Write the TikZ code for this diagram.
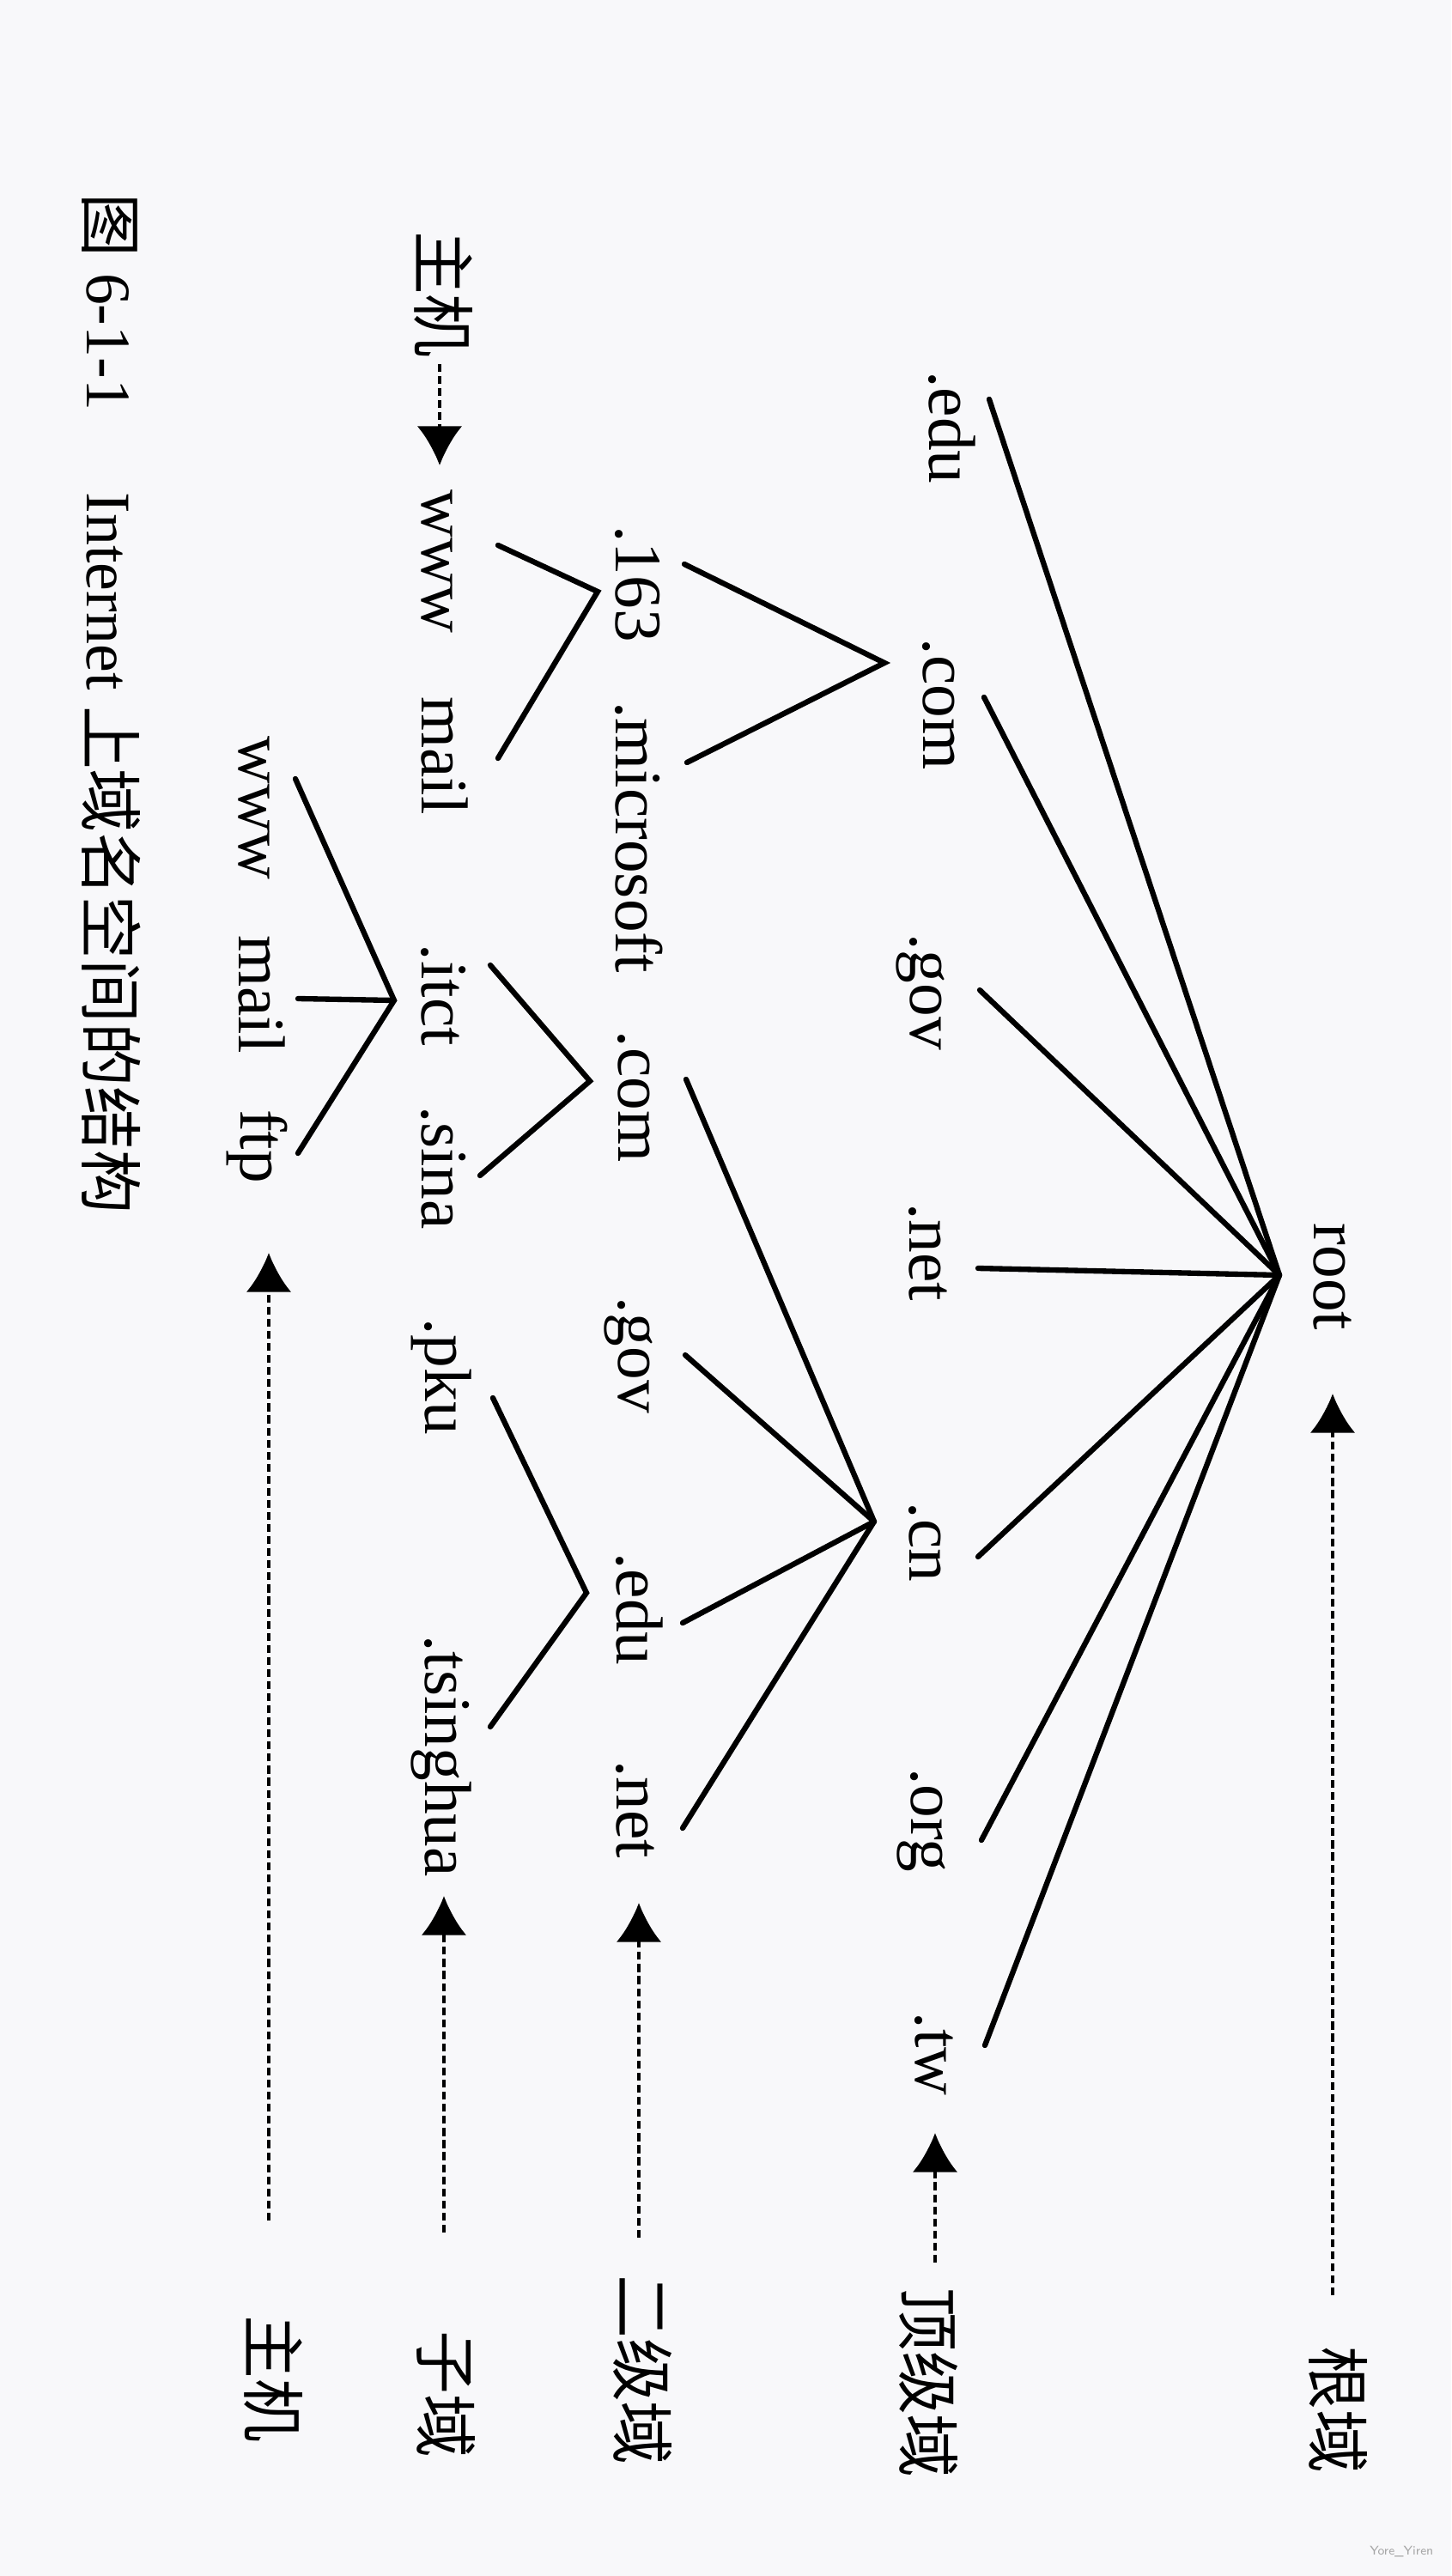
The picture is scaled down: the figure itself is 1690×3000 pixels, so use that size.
\documentclass[tikz,border=0pt]{standalone}
\usepackage{fontspec}
\setmainfont{Liberation Serif}
\newfontfamily\cjk{Noto Sans CJK SC}
\usetikzlibrary{arrows.meta}
\definecolor{pagebg}{RGB}{248,248,250}
\begin{document}
\begin{tikzpicture}[x=0.01cm,y=-0.01cm,
  lbl/.style={rotate=-90,anchor=base,inner sep=0pt,font=\fontsize{22}{26}\selectfont},
  cjklbl/.style={rotate=-90,anchor=center,inner sep=0pt,font=\cjk\fontsize{21}{25}\selectfont},
  edge/.style={line width=1.8pt,line cap=round,line join=miter},
  guide/.style={line width=1.35pt,dash pattern=on 2.6pt off 1.4pt,-{Latex[length=13pt,width=15pt]}}]
\fill[pagebg] (0,0) rectangle (1690,3000);
\useasboundingbox (0,0) rectangle (1690,3000);

% ---- labels: root and top-level domains
\node[lbl] (root) at (1530,1487) {root};
\node[lbl] (t-edu) at (1082,498) {.edu};
\node[lbl] (t-com) at (1075,820) {.com};
\node[lbl] (t-gov) at (1060,1155) {.gov};
\node[lbl] (t-net) at (1059,1458) {.net};
\node[lbl] (t-cn) at (1059,1796) {.cn};
\node[lbl] (t-org) at (1061,2120) {.org};
\node[lbl] (t-tw) at (1066,2392) {.tw};

% ---- second level
\node[lbl] (s-163) at (717,680) {.163};
\node[lbl] (s-ms) at (717,975) {.microsoft};
\node[lbl] (s-com) at (720,1277) {.com};
\node[lbl] (s-gov) at (720,1578) {.gov};
\node[lbl] (s-edu) at (718,1874) {.edu};
\node[lbl] (s-net) at (718,2107) {.net};

% ---- third level
\node[lbl] (h-www) at (491,654) {www};
\node[lbl] (h-mail) at (491,880) {mail};
\node[lbl] (d-itct) at (491,1159) {.itct};
\node[lbl] (d-sina) at (491,1360) {.sina};
\node[lbl] (d-pku) at (495,1603) {.pku};
\node[lbl] (d-tsing) at (495,2045) {.tsinghua};

% ---- hosts under .itct
\node[lbl] (m-www) at (278,941) {www};
\node[lbl] (m-mail) at (278,1158) {mail};
\node[lbl] (m-ftp) at (280,1335) {ftp};

% ---- level names
\node[cjklbl] (lab-root) at (1559,2806) {根域};
\node[cjklbl] (lab-tld) at (1082,2775) {顶级域};
\node[cjklbl] (lab-2nd) at (749,2760) {二级域};
\node[cjklbl] (lab-sub) at (520,2788) {子域};
\node[cjklbl] (lab-host) at (319,2770) {主机};
\node[cjklbl] (lab-hosttop) at (517,343) {主机};

% ---- caption
\node[rotate=-90,anchor=base west,inner sep=0pt,font=\fontsize{21}{25}\selectfont] (caption) at (101,225)
  {{\cjk 图} 6-1-1\hspace{1.3em}Internet {\cjk 上域名空间的结构}};

% ---- watermark
\node[anchor=east,inner sep=0pt,font=\sffamily\fontsize{4.2}{5}\selectfont,text=black!35] (wm) at (1670,2972) {Yore\_Yiren};

% ---- junction and end points
\coordinate (root-j) at (1490,1485);
\coordinate (t-edu-e) at (1152,465);
\coordinate (t-com-e) at (1146,812);
\coordinate (t-gov-e) at (1141,1153);
\coordinate (t-net-e) at (1139,1477);
\coordinate (t-cn-e) at (1139,1813);
\coordinate (t-org-e) at (1143,2143);
\coordinate (t-tw-e) at (1147,2382);

\coordinate (t-com-j) at (1030,772);
\coordinate (s-163-e) at (797,657);
\coordinate (s-ms-e) at (800,888);

\coordinate (t-cn-j) at (1018,1772);
\coordinate (s-com-e) at (799,1257);
\coordinate (s-gov-e) at (798,1578);
\coordinate (s-edu-e) at (795,1890);
\coordinate (s-net-e) at (795,2129);

\coordinate (s-163-j) at (696,689);
\coordinate (h-www-e) at (580,635);
\coordinate (h-mail-e) at (580,883);

\coordinate (s-com-j) at (687,1259);
\coordinate (d-itct-e) at (571,1124);
\coordinate (d-sina-e) at (559,1369);

\coordinate (s-edu-j) at (683,1855);
\coordinate (d-pku-e) at (574,1628);
\coordinate (d-tsing-e) at (571,2011);

\coordinate (d-itct-j) at (459,1165);
\coordinate (m-www-e) at (344,907);
\coordinate (m-mail-e) at (347,1163);
\coordinate (m-ftp-e) at (347,1343);

% ---- tree edges
\foreach \c in {t-edu-e,t-com-e,t-gov-e,t-net-e,t-cn-e,t-org-e,t-tw-e}
  \draw[edge] (root-j) -- (\c);
\draw[edge] (s-163-e) -- (t-com-j) -- (s-ms-e);
\foreach \c in {s-com-e,s-gov-e,s-edu-e,s-net-e}
  \draw[edge] (t-cn-j) -- (\c);
\draw[edge] (h-www-e) -- (s-163-j) -- (h-mail-e);
\draw[edge] (d-itct-e) -- (s-com-j) -- (d-sina-e);
\draw[edge] (d-pku-e) -- (s-edu-j) -- (d-tsing-e);
\draw[edge] (m-www-e) -- (d-itct-j) -- (m-ftp-e);
\draw[edge] (d-itct-j) -- (m-mail-e);

% ---- level guide arrows
\coordinate (g-root-a) at (1552,2673);
\coordinate (g-root-b) at (1552,1623);
\coordinate (g-tld-a) at (1089,2635);
\coordinate (g-tld-b) at (1089,2484);
\coordinate (g-2nd-a) at (744,2606);
\coordinate (g-2nd-b) at (744,2216);
\coordinate (g-sub-a) at (517,2600);
\coordinate (g-sub-b) at (517,2208);
\coordinate (g-host-a) at (313,2586);
\coordinate (g-host-b) at (313,1459);
\coordinate (g-top-a) at (512,424);
\coordinate (g-top-b) at (512,542);
\draw[guide] (g-root-a) -- (g-root-b);
\draw[guide] (g-tld-a) -- (g-tld-b);
\draw[guide] (g-2nd-a) -- (g-2nd-b);
\draw[guide] (g-sub-a) -- (g-sub-b);
\draw[guide] (g-host-a) -- (g-host-b);
\draw[guide] (g-top-a) -- (g-top-b);
\end{tikzpicture}
\end{document}
